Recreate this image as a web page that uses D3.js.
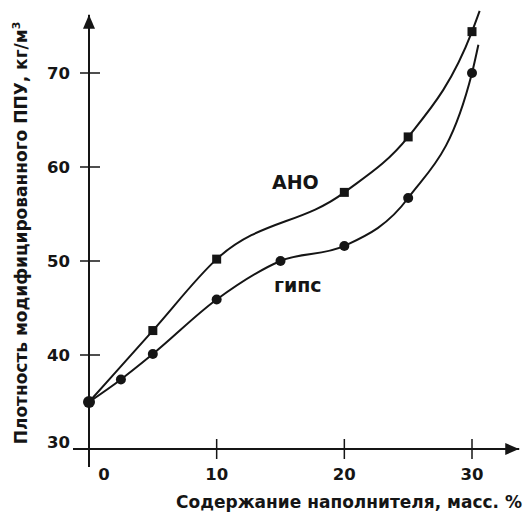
<!DOCTYPE html>
<html>
<head>
<meta charset="utf-8">
<script src="https://cdn.jsdelivr.net/npm/d3@7"></script>
<style>
  body { margin: 0; background: #fff; }
  text { font-family: "DejaVu Sans", Verdana, sans-serif; font-weight: bold; fill: #151515; }
</style>
</head>
<body>
<svg id="chart" width="525" height="512"></svg>
<script>
// filler content, mass %
var anoX = [0, 5, 10, 20, 25, 30];
var anoY = [35, 42.6, 50.2, 57.3, 63.2, 74.4];
var gipsX = [0, 2.5, 5, 10, 15, 20, 25, 30];
var gipsY = [35, 37.4, 40.1, 45.9, 50, 51.6, 56.7, 70];
// where the drawn curves run out past the last marker
var anoTail = [30.6, 76.6];
var gipsTail = [30.5, 73];

var xTicks = [0, 10, 20, 30];
var yTicks = [30, 40, 50, 60, 70];
var xTitle = "Содержание наполнителя, масс. %";
var yTitle = "Плотность модифицированного ППУ, кг/м";

var svg = d3.select('#chart');
var ink = '#151515';

var x = d3.scaleLinear().domain([0, 30]).range([89, 472]);
var y = d3.scaleLinear().domain([30, 70]).range([449, 73]);

/* AXES */

var defs = svg.append('defs');
defs.append('marker').attr('id', 'arr')
  .attr('viewBox', '0 0 14 12').attr('refX', 14).attr('refY', 6)
  .attr('markerWidth', 14).attr('markerHeight', 12)
  .attr('markerUnits', 'userSpaceOnUse').attr('orient', 'auto')
  .append('path').attr('d', 'M0,0 L14,6 L0,12 Z').style('fill', ink);

// y axis line with arrow
svg.append('line')
  .attr('x1', x(0)).attr('y1', y(30) + 18)
  .attr('x2', x(0)).attr('y2', y(76.2))
  .style('stroke', ink).style('stroke-width', 2)
  .attr('marker-end', 'url(#arr)');

// x axis line with arrow
svg.append('line')
  .attr('x1', x(0) - 16).attr('y1', y(30))
  .attr('x2', x(33.7)).attr('y2', y(30))
  .style('stroke', ink).style('stroke-width', 2)
  .attr('marker-end', 'url(#arr)');

svg.selectAll('line.ytick')
  .data(yTicks.filter(d => d > 30))
  .enter().append('line').classed('ytick', true)
  .attr('x1', x(0) - 9).attr('x2', x(0) + 11)
  .attr('y1', d => y(d)).attr('y2', d => y(d))
  .style('stroke', ink).style('stroke-width', 1.5);

svg.selectAll('line.xtick')
  .data(xTicks.filter(d => d > 0))
  .enter().append('line').classed('xtick', true)
  .attr('x1', d => x(d)).attr('x2', d => x(d))
  .attr('y1', y(30) - 10).attr('y2', y(30) + 10)
  .style('stroke', ink).style('stroke-width', 1.5);

svg.selectAll('text.ylab')
  .data(yTicks)
  .enter().append('text').classed('ylab', true)
  .attr('x', x(0) - 19)
  .attr('y', d => y(d) + (d === 30 ? -1 : 6))
  .attr('text-anchor', 'end')
  .style('font-size', '16.5px')
  .text(d => d);

svg.selectAll('text.xlab')
  .data(xTicks)
  .enter().append('text').classed('xlab', true)
  .attr('x', d => x(d) + (d === 0 ? 15 : 0))
  .attr('y', y(30) + 31)
  .attr('text-anchor', 'middle')
  .style('font-size', '16.5px')
  .text(d => d);

svg.append('text')
  .attr('x', 522).attr('y', 508)
  .attr('text-anchor', 'end')
  .style('font-size', '17px')
  .text(xTitle);

var yt = svg.append('text')
  .attr('transform', 'translate(27,' + 233 + ') rotate(-90)')
  .attr('text-anchor', 'middle')
  .style('font-size', '17px')
  .text(yTitle);
yt.append('tspan').attr('dy', -7).style('font-size', '11px').text('3');

/* CURVES */

var line = d3.line()
  .x(d => x(d[0]))
  .y(d => y(d[1]))
  .curve(d3.curveMonotoneX);

var anoPts = anoX.map((v, i) => [v, anoY[i]]);
var gipsPts = gipsX.map((v, i) => [v, gipsY[i]]);

svg.append('path')
  .attr('d', line(anoPts.concat([anoTail])))
  .style('fill', 'none').style('stroke', ink).style('stroke-width', 2);

svg.append('path')
  .attr('d', line(gipsPts.concat([gipsTail])))
  .style('fill', 'none').style('stroke', ink).style('stroke-width', 2);

svg.selectAll('rect.ano')
  .data(anoPts.slice(1))
  .enter().append('rect').classed('ano', true)
  .attr('x', d => x(d[0]) - 4.5).attr('y', d => y(d[1]) - 4.5)
  .attr('width', 9).attr('height', 9)
  .style('fill', ink);

svg.selectAll('circle.gips')
  .data(gipsPts)
  .enter().append('circle').classed('gips', true)
  .attr('cx', d => x(d[0])).attr('cy', d => y(d[1]))
  .attr('r', d => d[0] === 0 ? 6 : 5)
  .style('fill', ink);

svg.append('text')
  .attr('x', 272).attr('y', 189)
  .style('font-size', '19px')
  .text('АНО');

svg.append('text')
  .attr('x', 274).attr('y', 292)
  .style('font-size', '19px')
  .text('гипс');
</script>
</body>
</html>
